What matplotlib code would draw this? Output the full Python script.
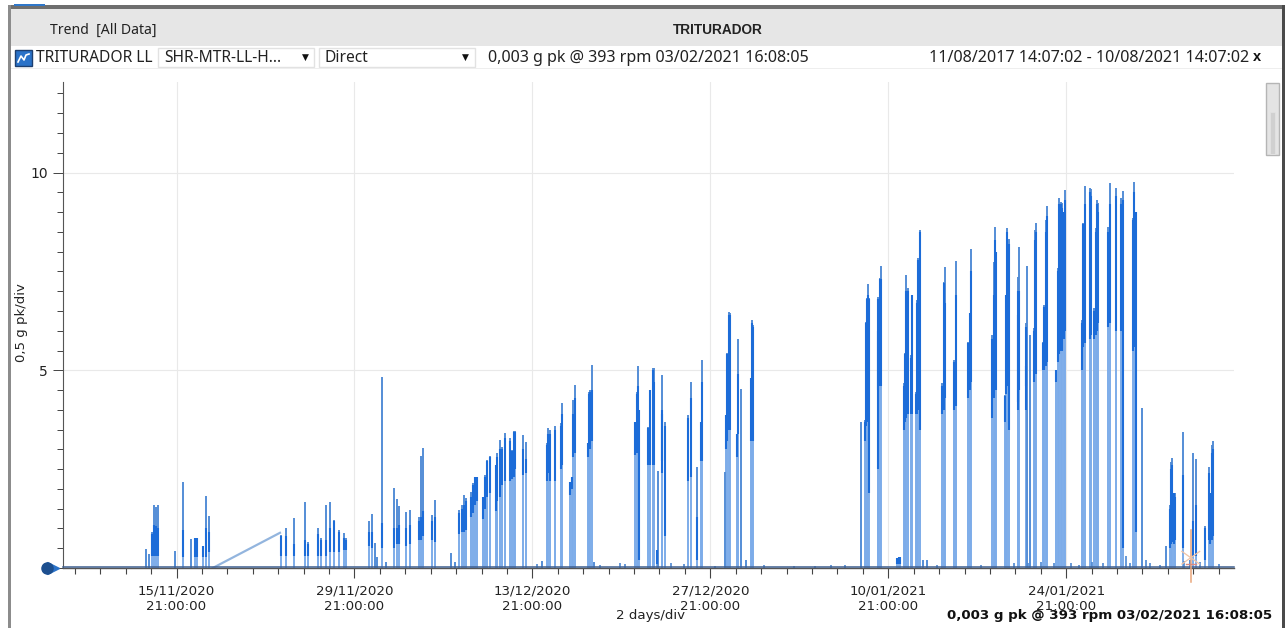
import matplotlib
matplotlib.use('Agg')
import matplotlib.pyplot as plt
from matplotlib.lines import Line2D
from matplotlib.patches import Rectangle

W = 1288
H = 628

# days since 15/11/2020 21:00
burst_day = [
    -2.40, -2.16, -1.93, -1.77, -1.61, -1.46, -0.12, 0.54, 1.16, 1.46, 1.61, 2.09, 2.32, 2.53,
    8.25, 8.62, 9.22, 10.13, 10.32, 11.11, 11.37, 11.79, 12.08, 12.37, 12.79, 13.18, 13.36,
    15.15, 15.41, 15.59, 15.75, 16.17, 16.51, 17.09, 17.35, 17.48, 18.08, 18.40, 19.08, 19.24, 19.42, 20.08, 20.36, 21.60, 21.91,
    22.25, 22.44, 22.62, 22.80, 23.17, 23.35, 23.49, 23.64, 24.14, 24.30, 24.45, 24.64, 25.11, 25.24, 25.48, 25.61, 25.85, 26.22, 26.40, 26.53, 26.61, 27.29, 27.48, 28.73,
    29.13, 29.25, 29.41, 29.80, 30.25, 30.35, 30.98, 31.14, 31.22, 31.33, 32.35, 32.46, 32.56, 32.67, 32.81,
    36.07, 36.21, 36.29, 36.41, 37.12, 37.28, 37.47, 37.55, 37.78, 37.88, 38.18, 38.22, 38.43, 40.27, 40.46, 40.93, 41.27, 41.35,
    43.15, 43.23, 43.31, 43.47, 43.57, 44.12, 44.20, 44.44, 44.78, 45.20, 45.26, 45.38,
    53.88, 54.17, 54.27, 54.35, 54.43, 54.49, 55.17, 55.22, 55.33, 55.45, 56.69, 56.81, 56.92,
    57.22, 57.32, 57.42, 57.53, 57.79, 57.87, 58.19, 58.26, 58.37, 58.48, 58.74, 59.05,
    60.25, 60.36, 60.49, 61.20, 61.31, 62.30, 62.41, 62.51,
    64.19, 64.32, 64.42, 64.50, 65.19, 65.26, 65.37, 65.48, 66.19, 66.23, 66.31, 66.82, 66.86, 66.94, 67.18, 67.49, 67.55, 67.63,
    68.20, 68.28, 68.41, 68.49, 69.20, 69.33, 69.43, 69.57, 69.70, 69.80, 69.91,
    71.22, 71.35, 71.46, 71.87, 71.95, 72.21, 72.32, 72.43, 72.53, 73.31, 73.45, 73.90, 74.29, 74.45, 75.23, 75.33, 75.47, 75.95,
    77.88, 78.14, 78.21, 78.31, 78.47, 78.55, 79.16, 79.73, 79.95, 80.19, 80.92, 81.21, 81.32, 81.48, 81.58,
]
burst_peak = [
    0.48, 0.35, 0.90, 1.60, 1.55, 1.60, 0.42, 2.17, 0.73, 0.75, 0.75, 0.55, 1.82, 1.32,
    0.83, 1.00, 1.27, 1.67, 0.65, 1.02, 0.76, 1.59, 1.67, 1.21, 0.96, 0.89, 0.76,
    1.20, 1.36, 0.64, 0.29, 4.82, 0.16, 2.03, 1.74, 1.58, 1.41, 1.47, 1.30, 2.83, 3.04, 1.34, 1.72, 0.38, 0.16,
    1.47, 1.59, 1.85, 1.76, 1.93, 2.15, 2.31, 2.31, 1.80, 2.35, 2.73, 2.84, 2.60, 2.92, 3.24, 3.07, 3.41, 3.28, 2.98, 3.47, 3.47, 3.37, 3.19, 0.18,
    3.16, 3.53, 3.50, 3.60, 3.66, 4.16, 2.18, 2.30, 4.25, 4.64, 3.15, 4.46, 4.50, 5.13, 0.16,
    3.70, 4.46, 5.10, 4.00, 3.57, 4.50, 5.07, 5.05, 0.45, 2.45, 3.89, 4.88, 3.69, 3.87, 4.71, 2.56, 3.70, 5.26,
    2.44, 3.87, 5.43, 6.48, 6.46, 3.40, 5.80, 4.52, 0.20, 4.80, 6.27, 6.15,
    3.70, 3.74, 6.23, 6.84, 7.18, 6.83, 6.07, 6.86, 7.33, 7.64, 0.25, 0.27, 0.27,
    4.68, 5.43, 7.41, 7.07, 5.38, 6.90, 4.46, 6.78, 7.84, 8.55, 0.20, 0.20,
    4.67, 7.24, 7.60, 5.26, 7.77, 5.72, 6.45, 8.06,
    5.89, 7.74, 8.63, 8.00, 4.37, 6.90, 8.60, 8.33, 6.48, 7.37, 8.12, 5.18, 6.19, 7.64, 5.90, 6.06, 8.55, 8.73,
    5.72, 6.65, 8.80, 9.15, 4.88, 7.59, 9.35, 9.26, 9.22, 9.00, 9.56,
    6.27, 8.72, 9.66, 9.60, 9.58, 6.58, 8.60, 9.30, 9.22, 8.63, 9.73, 9.62, 9.36, 9.53, 8.85, 9.76, 9.00, 4.05,
    0.56, 1.59, 2.69, 2.78, 1.90, 1.90, 3.44, 0.20, 2.90, 2.76, 1.07, 2.56, 1.90, 3.10, 3.20,
]
dark_low = [
    0, 0, 0.30, 0.30, 0.30, 0.30, 0, 0.28, 0, 0.28, 0.28, 0.28, 0.28, 0.40,
    0.30, 0.30, 0.30, 0.30, 0.30, 0.30, 0.30, 0.30, 0.40, 0.40, 0.40, 0.45, 0.45,
    0.55, 0.50, 0, 0, 0.50, 0, 0.50, 0.60, 0.60, 0.55, 0.60, 0.70, 0.70, 0.80, 0.70, 0.65, 0, 0,
    0.85, 0.90, 0.90, 0.95, 1.30, 1.40, 1.60, 1.70, 1.25, 1.50, 1.80, 1.90, 1.45, 1.70, 1.80, 2.10, 2.20, 2.20, 2.25, 2.30, 2.50, 2.35, 2.40, 0,
    2.20, 2.40, 2.20, 2.20, 2.50, 2.60, 1.85, 2.00, 2.80, 2.90, 2.80, 3.00, 3.00, 3.20, 0,
    2.85, 2.90, 3.00, 0.20, 2.60, 2.60, 2.60, 2.60, 0.10, 0, 2.40, 2.70, 0.80, 2.20, 2.30, 0.20, 2.70, 2.70,
    0, 3.00, 3.20, 3.50, 3.50, 2.80, 3.40, 0, 0, 3.20, 3.20, 3.20,
    0, 3.20, 3.60, 3.70, 3.70, 1.90, 4.50, 2.50, 4.60, 4.60, 0.10, 0.10, 0.10,
    3.50, 3.70, 3.80, 3.90, 3.90, 3.90, 3.90, 3.90, 4.00, 3.50, 0, 0,
    3.90, 4.00, 4.30, 4.00, 4.10, 4.30, 4.50, 4.70,
    3.80, 4.30, 4.50, 4.50, 3.70, 4.40, 4.60, 3.50, 4.00, 4.20, 4.50, 4.00, 4.60, 0, 0, 4.70, 4.90, 4.90,
    5.00, 5.00, 5.10, 5.20, 4.70, 5.20, 5.40, 5.50, 5.50, 5.80, 6.00,
    5.00, 5.60, 5.70, 5.80, 5.90, 5.80, 5.90, 6.00, 6.20, 6.10, 6.20, 6.00, 6.00, 0.50, 5.50, 5.60, 0.90, 0,
    0, 0.50, 0.60, 0.65, 0.60, 0.70, 0.50, 0, 0.30, 0.30, 0.20, 0.70, 0.60, 0.70, 0.80,
]
dark_high = [
    0, 0, 0.85, 1.10, 1.05, 1.00, 0, 0.95, 0, 0.75, 0.75, 0.55, 1.00, 0.90,
    0.80, 0.80, 0.60, 0.70, 0.60, 0.85, 0.70, 0.70, 1.00, 1.20, 0.90, 0.75, 0.70,
    0.90, 0.90, 0, 0, 1.15, 0, 1.00, 1.00, 1.10, 1.00, 1.10, 1.20, 1.30, 1.45, 1.20, 1.30, 0, 0,
    1.40, 1.50, 1.60, 1.70, 1.80, 2.10, 2.30, 2.30, 1.80, 2.30, 2.70, 2.80, 2.60, 2.80, 3.00, 3.00, 3.30, 3.20, 2.95, 3.45, 3.45, 3.00, 2.75, 0,
    3.10, 3.40, 3.40, 3.50, 3.60, 3.90, 2.18, 2.30, 3.90, 4.30, 3.15, 4.40, 4.45, 4.50, 0,
    3.70, 4.40, 4.60, 4.00, 3.55, 4.50, 5.00, 4.70, 0.45, 0, 3.90, 4.00, 3.60, 3.80, 4.30, 1.30, 3.70, 4.70,
    0, 3.87, 5.40, 6.40, 6.40, 3.40, 4.90, 0, 0, 4.80, 6.20, 6.10,
    0, 3.70, 6.20, 6.80, 6.90, 6.80, 6.00, 6.80, 7.30, 7.30, 0.25, 0.27, 0.27,
    4.60, 5.40, 7.00, 7.00, 5.30, 6.90, 4.40, 6.70, 7.80, 8.50, 0, 0,
    4.60, 7.20, 6.70, 5.20, 6.90, 5.70, 6.45, 7.50,
    5.80, 6.90, 8.30, 8.00, 4.35, 6.90, 8.50, 8.20, 6.40, 7.00, 7.00, 5.10, 6.10, 0, 0, 6.00, 8.30, 8.50,
    5.70, 6.60, 8.50, 8.90, 5.00, 7.50, 9.20, 9.20, 9.10, 9.00, 9.30,
    6.20, 8.70, 9.20, 9.50, 9.40, 6.50, 8.50, 9.20, 9.00, 8.50, 9.20, 9.40, 9.20, 9.30, 8.80, 9.50, 9.00, 0,
    0, 1.50, 2.50, 2.60, 1.90, 1.80, 2.35, 0, 1.20, 1.60, 1.00, 2.40, 1.90, 2.90, 3.00,
]

# low readings between the running periods
bump_day = [28.4, 33.3, 34.9, 35.3, 38.9, 39.9, 42.4, 46.2, 48.6, 50.2, 51.5, 52.6, 59.8, 63.3, 65.9,
            67.0, 68.0, 69.0, 70.4, 71.0, 72.0, 72.9, 74.7, 75.0, 76.3, 76.6, 77.4, 79.3, 80.5, 82.0]
bump_value = [0.10, 0.08, 0.12, 0.10, 0.12, 0.10, 0.06, 0.08, 0.06, 0.06, 0.07, 0.07, 0.08, 0.07, 0.12,
              0.12, 0.16, 0.12, 0.12, 0.08, 0.16, 0.12, 0.30, 0.12, 0.20, 0.12, 0.08, 0.18, 0.14, 0.10]

# straight stretch where the sensor had a gap in readings
gap_day = [2.85, 8.14]
gap_value = [0.0, 0.89]

major_days = [0, 14, 28, 42, 56, 70]
major_labels = ['15/11/2020\n21:00:00', '29/11/2020\n21:00:00', '13/12/2020\n21:00:00',
                '27/12/2020\n21:00:00', '10/01/2021\n21:00:00', '24/01/2021\n21:00:00']
minor_days = list(range(-8, 84, 2))
y_major = [0, 5, 10]
y_minor = [v * 0.5 for v in range(0, 25)]

cursor_day = 79.8

LIGHT = '#7dace9'
MID = '#4d88d2'
DARK = '#1c6cd8'
BASE = '#3f5f8f'
TEXT = '#222222'
UI_FONT = 'Noto Sans'
BOLD_FONT = 'Liberation Sans'


def rect(x0, y0, x1, y1, **kw):
    # pixel box, measured from the top left of the window
    fig.add_artist(Rectangle((x0 / W, 1 - y1 / H), (x1 - x0) / W, (y1 - y0) / H,
                             transform=fig.transFigure, **kw))


def label(x, y, s, **kw):
    fig.text(x / W, 1 - y / H, s, va='center', **kw)


fig = plt.figure(figsize=(W / 100, H / 100), dpi=100, facecolor='white')

# window chrome
rect(8, 5, 1283, 9, color='#6e6e6e', lw=0)
rect(8, 5, 11, 628, color='#8c8c8c', lw=0)
rect(1282, 5, 1285, 628, color='#4a4a4a', lw=0)
rect(11, 9, 1282, 46, color='#e6e6e6', lw=0)
rect(14, 4, 45, 6, color='#2f77c9', lw=0)
rect(158, 48, 314, 67, facecolor='white', edgecolor='#e2e2e2', lw=1)
rect(319, 48, 475, 67, facecolor='white', edgecolor='#e2e2e2', lw=1)
rect(11, 68, 1282, 69, color='#eeeeee', lw=0)
rect(15, 50, 32, 66, facecolor='#2a72c8', edgecolor='#1d3f70', lw=1)
fig.add_artist(Line2D([18 / W, 21 / W, 24 / W, 26 / W, 29 / W],
                      [1 - 62 / H, 1 - 56 / H, 1 - 60 / H, 1 - 55 / H, 1 - 54 / H],
                      color='white', lw=1.2))
rect(1266, 83, 1279, 155, facecolor='#e4e4e4', edgecolor='#b5b5b5', lw=1)
rect(1270, 112, 1275, 154, facecolor='#d0d0d0', edgecolor='#e4e4e4', lw=0.5)

label(50, 30, 'Trend  [All Data]', fontsize=10.1, color=TEXT, family=UI_FONT)
label(718, 30, 'TRITURADOR', fontsize=9.8, color=TEXT, family=BOLD_FONT, weight='bold', ha='center')
label(36, 58, 'TRITURADOR LL', fontsize=11.2, color=TEXT, family=UI_FONT)
label(164, 58, 'SHR-MTR-LL-H...', fontsize=11.2, color=TEXT, family=UI_FONT)
label(325, 58, 'Direct', fontsize=11.2, color=TEXT, family=UI_FONT)
label(305, 57, '▼', fontsize=6.5, color='#111111', ha='center')
label(465, 57, '▼', fontsize=6.5, color='#111111', ha='center')
label(488, 58, '0,003 g pk @ 393 rpm 03/02/2021 16:08:05', fontsize=11.6, color=TEXT, family=UI_FONT)
label(1249, 58, '11/08/2017 14:07:02 - 10/08/2021 14:07:02', fontsize=11.6, color=TEXT,
      family=UI_FONT, ha='right')
label(1253, 57, 'x', fontsize=10.5, color='#111111', family=BOLD_FONT, weight='bold')

ax = fig.add_axes([63 / W, 1 - 568 / H, (1234 - 63) / W, (568 - 82) / H])
ax.set_xlim(-8.93, 83.2)
ax.set_ylim(0, 12.29)
ax.set_facecolor('none')

for name in ['top', 'right']:
    ax.spines[name].set_visible(False)
ax.spines['left'].set_color('#555555')
ax.spines['bottom'].set_color('#555555')
ax.spines['left'].set_linewidth(0.8)
ax.spines['bottom'].set_linewidth(1.0)

ax.set_xticks(major_days)
ax.set_xticklabels(major_labels, fontsize=9.6, color=TEXT, linespacing=1.2)
ax.set_xticks(minor_days, minor=True)
ax.set_yticks(y_major)
ax.set_yticklabels(['', '5', '10'], fontsize=10, color=TEXT)
ax.set_yticks(y_minor, minor=True)
ax.tick_params(axis='x', which='major', length=7, width=0.8, color='#444444', pad=5)
ax.tick_params(axis='x', which='minor', length=4, width=0.8, color='#444444')
ax.tick_params(axis='y', which='major', length=7, width=0.7, color='#444444', pad=4)
ax.tick_params(axis='y', which='minor', length=4, width=0.7, color='#444444')
ax.grid(True, which='major', color='#e9e9e9', lw=0.8)
ax.set_axisbelow(True)

# light body of each run, darker top, then the dense band
ax.vlines(burst_day, 0, burst_peak, color=LIGHT, lw=1.4, zorder=2)
ax.vlines(bump_day, 0, bump_value, color=MID, lw=1.2, zorder=2)
ax.vlines(burst_day, dark_high, burst_peak, color=MID, lw=1.1, zorder=3)
ax.vlines(burst_day, dark_low, dark_high, color=DARK, lw=1.5, zorder=4)
ax.plot(gap_day, gap_value, color='#93b5de', lw=1.6, zorder=2)
ax.plot([-8.93, 83.2], [0.02, 0.02], color=BASE, lw=1.1, zorder=5, clip_on=False)

# cursor at the selected point
ax.plot([cursor_day, cursor_day], [-0.35, 0.95], color='#e9a77c', lw=1.1, zorder=6, clip_on=False)
ax.plot([cursor_day - 0.7, cursor_day + 0.7], [0.42, 0.1], color='#f0c4a6', lw=0.9, zorder=6)
ax.plot([cursor_day - 0.7, cursor_day + 0.7], [0.1, 0.42], color='#f0c4a6', lw=0.9, zorder=6)
ax.plot([cursor_day - 0.4, cursor_day + 0.4], [0.1, 0.1], color='#d98a80', lw=1.0, zorder=6)

# scroll handle on the y axis
ax.plot([-9.75], [0], marker='>', ms=8, color='#2a72c8', clip_on=False, zorder=7)
ax.plot([-10.2], [0], marker='o', ms=8, color='#1d4f8f', clip_on=False, zorder=8)

label(22, 323, '0,5 g pk/div', fontsize=9.5, color=TEXT, rotation=90, ha='center')
label(650, 616, '2 days/div', fontsize=9.6, color=TEXT, ha='center')
label(947, 616, '0,003 g pk @ 393 rpm 03/02/2021 16:08:05', fontsize=9.6, color='#111111', weight='bold')

fig.savefig('out.png', dpi=100)
